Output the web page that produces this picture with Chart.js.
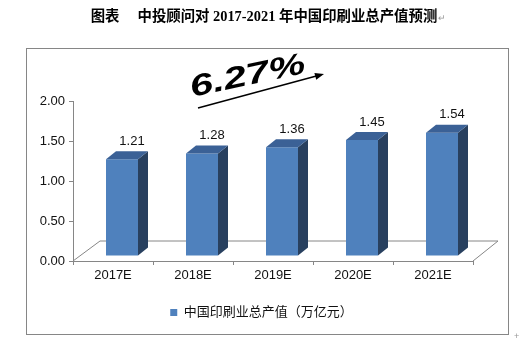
<!DOCTYPE html>
<html>
<head>
<meta charset="utf-8">
<script src="https://cdn.jsdelivr.net/npm/chart.js@4"></script>
<style>
  html, body { margin: 0; padding: 0; background: #fff; }
  canvas { display: block; }
</style>
</head>
<body>
<canvas id="chart" width="527" height="345"></canvas>
<script>
const categories = ['2017E', '2018E', '2019E', '2020E', '2021E'];
const outputValues = [1.21, 1.28, 1.36, 1.45, 1.54];
const yTickValues = [0, 0.5, 1, 1.5, 2];
const seriesName = '中国印刷业总产值（万亿元）';
const chartTitle = '图表\u3000 中投顾问对 2017-2021 年中国印刷业总产值预测';
const growthRate = '6.27%';

const SANS = "'Liberation Sans', Arial, 'Noto Sans CJK SC', sans-serif";
const TITLE_FONT = "bold 14.4px 'Liberation Serif', 'Noto Sans CJK SC', serif";

// depth offsets for the fake 3d look
const FLOOR_DX = 26, FLOOR_DY = -20;
const BAR_DX = 10, BAR_DY = -8;
const SHIFT_X = 9, SHIFT_Y = -5;
const LEGEND_SHIFT = 10;

const decorations = {
  id: 'decorations',
  afterLayout(chart) {
    // legend sits centred on the frame, not on the padded area
    chart.legend.left += LEGEND_SHIFT;
    chart.legend.right += LEGEND_SHIFT;
  },
  beforeDraw(chart) {
    const ctx = chart.ctx;
    ctx.save();
    // outer frame
    ctx.strokeStyle = '#868686';
    ctx.lineWidth = 1;
    ctx.strokeRect(26.5, 48.5, 482, 286);

    // title
    ctx.fillStyle = '#000';
    ctx.font = TITLE_FONT;
    ctx.textAlign = 'center';
    ctx.textBaseline = 'middle';
    ctx.fillText(chartTitle, 264, 17);
    const w = ctx.measureText(chartTitle).width;
    ctx.fillStyle = '#999';
    ctx.font = '9px ' + SANS;
    ctx.textAlign = 'left';
    ctx.fillText('↵', 264 + w / 2 + 1, 19);
    ctx.fillText('+', 514, 337);

    // growth rate callout with arrow
    ctx.save();
    ctx.translate(192, 97);
    ctx.rotate(-12 * Math.PI / 180);
    ctx.scale(1.38, 1);
    ctx.fillStyle = '#000';
    ctx.font = 'italic bold 30px ' + SANS;
    ctx.textAlign = 'left';
    ctx.textBaseline = 'alphabetic';
    ctx.fillText(growthRate, 0, 0);
    ctx.restore();

    const x1 = 198, y1 = 108, x2 = 324, y2 = 74;
    const ang = Math.atan2(y2 - y1, x2 - x1);
    ctx.strokeStyle = '#000';
    ctx.lineWidth = 1.5;
    ctx.beginPath();
    ctx.moveTo(x1, y1);
    ctx.lineTo(x2 - 6 * Math.cos(ang), y2 - 6 * Math.sin(ang));
    ctx.stroke();
    ctx.fillStyle = '#000';
    ctx.beginPath();
    ctx.moveTo(x2, y2);
    ctx.lineTo(x2 - 9 * Math.cos(ang) + 3.5 * Math.sin(ang), y2 - 9 * Math.sin(ang) - 3.5 * Math.cos(ang));
    ctx.lineTo(x2 - 9 * Math.cos(ang) - 3.5 * Math.sin(ang), y2 - 9 * Math.sin(ang) + 3.5 * Math.cos(ang));
    ctx.closePath();
    ctx.fill();
    ctx.restore();
  },
  beforeDatasetsDraw(chart) {
    const ctx = chart.ctx;
    const a = chart.chartArea;
    // floor outline
    ctx.save();
    ctx.strokeStyle = '#868686';
    ctx.lineWidth = 1;
    ctx.beginPath();
    ctx.moveTo(a.left, a.bottom);
    ctx.lineTo(a.left + FLOOR_DX + 1, a.bottom + FLOOR_DY);
    ctx.lineTo(a.right + FLOOR_DX - 1, a.bottom + FLOOR_DY);
    ctx.lineTo(a.right, a.bottom);
    ctx.stroke();
    ctx.restore();

    ctx.save();
    ctx.translate(SHIFT_X, SHIFT_Y);
  },
  afterDatasetsDraw(chart) {
    const ctx = chart.ctx;
    const meta = chart.getDatasetMeta(0);
    meta.data.forEach((bar, i) => {
      const left = bar.x - bar.width / 2;
      const right = bar.x + bar.width / 2;
      const top = bar.y, base = bar.base;
      // side face
      ctx.fillStyle = '#28405f';
      ctx.beginPath();
      ctx.moveTo(right, top);
      ctx.lineTo(right + BAR_DX, top + BAR_DY);
      ctx.lineTo(right + BAR_DX, base + BAR_DY);
      ctx.lineTo(right, base);
      ctx.closePath();
      ctx.fill();
      // top face
      ctx.fillStyle = '#3b6196';
      ctx.beginPath();
      ctx.moveTo(left, top);
      ctx.lineTo(left + BAR_DX, top + BAR_DY);
      ctx.lineTo(right + BAR_DX, top + BAR_DY);
      ctx.lineTo(right, top);
      ctx.closePath();
      ctx.fill();
      // value label
      ctx.fillStyle = '#111';
      ctx.font = '13px ' + SANS;
      ctx.textAlign = 'center';
      ctx.textBaseline = 'middle';
      ctx.fillText(outputValues[i].toFixed(2), bar.x + 10, top - 18);
    });
    ctx.restore();
  }
};

const ctx = document.getElementById('chart').getContext('2d');
const chart = new Chart(ctx, {
  type: 'bar',
  data: {
    labels: categories,
    datasets: [{
      label: seriesName,
      data: outputValues,
      backgroundColor: '#4f81bd',
      borderWidth: 0,
      barPercentage: 0.4,
      categoryPercentage: 1,
      clip: false
    }]
  },
  options: {
    responsive: false,
    animation: false,
    devicePixelRatio: 1,
    layout: {
      padding: { left: 30, right: 54, top: 101, bottom: 16 }
    },
    plugins: {
      legend: {
        position: 'bottom',
        labels: {
          boxWidth: 7,
          boxHeight: 7,
          padding: 10,
          color: '#111',
          font: { family: SANS, size: 13 }
        }
      },
      tooltip: { enabled: false },
      title: { display: false }
    },
    scales: {
      x: {
        grid: { drawOnChartArea: false, offset: true, tickLength: 4, color: '#868686' },
        border: { color: '#868686' },
        ticks: { color: '#111', font: { family: SANS, size: 13 }, padding: 3 },
        afterFit(scale) { scale.height = 35; }
      },
      y: {
        min: 0,
        max: 2,
        afterBuildTicks(scale) {
          scale.ticks = yTickValues.map(v => ({ value: v }));
        },
        grid: { drawOnChartArea: false, tickLength: 4, color: '#868686' },
        border: { color: '#868686' },
        ticks: {
          color: '#111',
          font: { family: SANS, size: 13 },
          padding: 4,
          callback: v => Number(v).toFixed(2)
        },
        afterFit(scale) { scale.width = 43; }
      }
    }
  },
  plugins: [decorations]
});
</script>
</body>
</html>
